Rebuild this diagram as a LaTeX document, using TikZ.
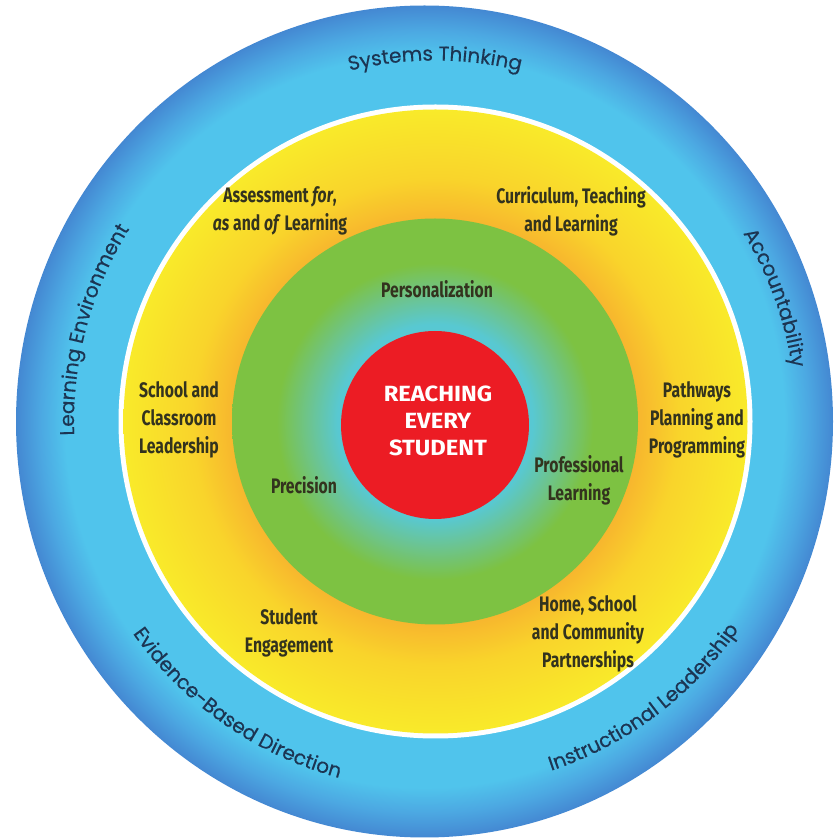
\documentclass[tikz,border=0pt]{standalone}
\usepackage{fontspec}
\usetikzlibrary{decorations.text}

\newfontfamily\ringfont[FakeBold=0.4]{Poppins}
\newfontfamily\labelfont[FakeStretch=0.75]{Fira Sans}
\newfontfamily\heartfont[FakeStretch=1.08]{Fira Sans}

\definecolor{bluedark}{HTML}{4488D2}
\definecolor{bluemid}{HTML}{4CA8E2}
\definecolor{bluelight}{HTML}{50C4EC}
\definecolor{yelbright}{HTML}{F9EA2A}
\definecolor{yelmid}{HTML}{F9D42B}
\definecolor{yelorange}{HTML}{F7B42E}
\definecolor{grnouter}{HTML}{7DC242}
\definecolor{grnmid}{HTML}{6CC490}
\definecolor{grnteal}{HTML}{58C8D2}
\definecolor{heartred}{HTML}{EC1C24}
\definecolor{ringnavy}{HTML}{1C3553}
\definecolor{labeltext}{HTML}{33331E}

\pgfdeclareradialshading{blueband}{\pgfpoint{0bp}{0bp}}{color(0bp)=(bluelight); color(19bp)=(bluelight); color(22bp)=(bluelight); color(23.5bp)=(bluemid); color(25bp)=(bluedark); color(50bp)=(bluedark)}
\pgfdeclareradialshading{yellowband}{\pgfpoint{0bp}{0bp}}{color(0bp)=(yelorange); color(16bp)=(yelorange); color(19.5bp)=(yelmid); color(25bp)=(yelbright); color(50bp)=(yelbright)}
\pgfdeclareradialshading{greenband}{\pgfpoint{0bp}{0bp}}{color(0bp)=(grnteal); color(12bp)=(grnteal); color(15.5bp)=(grnmid); color(19.5bp)=(grnouter); color(25bp)=(grnouter); color(50bp)=(grnouter)}

\tikzset{
  lbl/.style={font=\labelfont\bfseries\fontsize{21}{28}\selectfont, text=labeltext, align=center, inner sep=0pt},
  heart/.style={font=\heartfont\bfseries\fontsize{22}{27}\selectfont, text=white, align=center, inner sep=0pt},
  ringlabel/.style={decorate, decoration={text along path, text align=center,
      text={|\ringfont\fontsize{20}{20}\selectfont\color{ringnavy}|#1}}}
}

\begin{document}
\begin{tikzpicture}[x=1pt, y=1pt]
\useasboundingbox (0,0) rectangle (838,839);
\coordinate (ctr) at (435,417.5);
% rings from outside in
\shade[shading=blueband] (424.5,417.5) ellipse [x radius=408.5, y radius=416];
\fill[white] (435.5,417.5) circle [radius=317];
\shade[shading=yellowband] (435.5,417.5) circle [radius=312];
\shade[shading=greenband] (ctr) circle [radius=203];
\fill[heartred] (435,414) circle [radius=94];

% outer ring texts
\path[ringlabel={Systems Thinking}] ([shift={(130:361)}]ctr) arc[start angle=130, end angle=50, radius=361];
\path[ringlabel={Learning Environment}] ([shift={(210:361)}]ctr) arc[start angle=210, end angle=120, radius=361];
\path[ringlabel={Accountability}] ([shift={(60:361)}]ctr) arc[start angle=60, end angle=-20, radius=361];
\path[ringlabel={Evidence-Based Direction}] ([shift={(190:369)}]ctr) arc[start angle=190, end angle=280, radius=369];
\path[ringlabel={Instructional Leadership}] ([shift={(262:368)}]ctr) arc[start angle=262, end angle=352, radius=368];

% yellow ring
\node[lbl] (assess) at (280,628) {Assessment \textit{for},\\\textit{as} and \textit{of} Learning};
\node[lbl] (curric) at (571,628) {Curriculum, Teaching\\and Learning};
\node[lbl] (school) at (179,419) {School and\\Classroom\\Leadership};
\node[lbl] (pathways) at (697,419) {Pathways\\Planning and\\Programming};
\node[lbl] (engage) at (289,206) {Student\\Engagement};
\node[lbl] (partners) at (588,205) {Home, School\\and Community\\Partnerships};

% green ring
\node[lbl] (person) at (437,550) {Personalization};
\node[lbl] (precision) at (304,354) {Precision};
\node[lbl] (proflearn) at (579,359) {Professional\\Learning};

% centre
\node[heart] (reach) at (438,418) {REACHING\\EVERY\\STUDENT};
\end{tikzpicture}
\end{document}
